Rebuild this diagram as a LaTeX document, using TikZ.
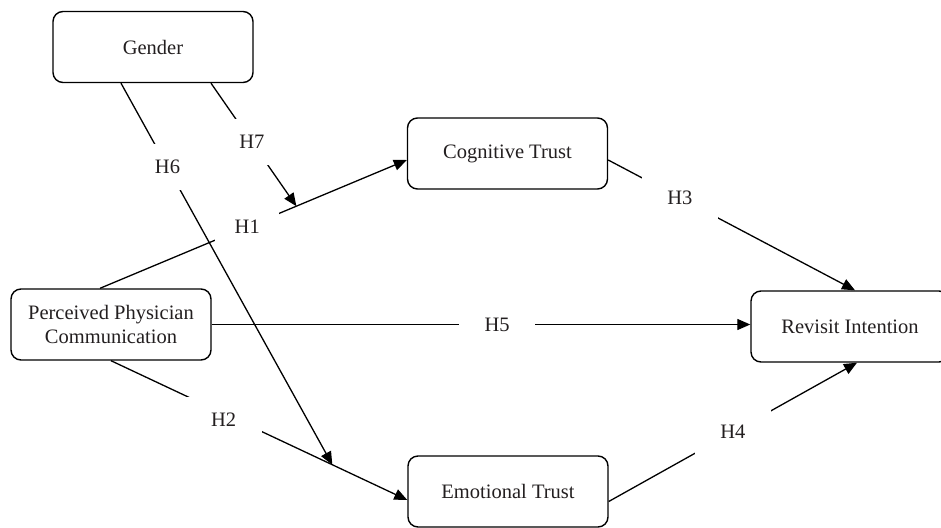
\documentclass[tikz,border=0pt]{standalone}
\usepackage{fontspec}
\setmainfont{Liberation Serif}
\usetikzlibrary{arrows.meta}
\definecolor{textc}{HTML}{231F20}
\begin{document}
\begin{tikzpicture}[x=1pt,y=-1pt,
  box/.style={draw, rounded corners=10pt, line width=1.4pt, minimum width=200pt, minimum height=71pt,
    align=center, inner sep=0pt, font=\fontsize{20.5}{24}\selectfont, text=textc},
  conn/.style={line width=1.3pt, -{Triangle[length=13pt,width=11pt]}},
  lbl/.style={fill=white, inner sep=0pt, minimum width=76pt, minimum height=46pt,
    font=\fontsize{20.5}{24}\selectfont, text=textc}]
\useasboundingbox (0,0) rectangle (941,527);
\fill[white] (0,0) rectangle (941,527);
\clip (0,0) rectangle (941,527);

\node[box] (gen) at (153,47) {Gender};
\node[box] (ppc) at (111,324.5) {Perceived Physician\\Communication};
\node[box] (cog) at (507.5,153.5) {Cognitive Trust};
\node[box, minimum width=198pt] (rev) at (850,326.5) {Revisit Intention};
\node[box] (emo) at (508,491.5) {Emotional Trust};

% H1
\draw[conn] ([xshift=-11pt]ppc.north) -- coordinate[pos=0.64] (m1)
  node[lbl, pos=0.48, minimum width=64pt] {H1} ([yshift=-6.5pt]cog.west);
% H2
\draw[conn] (ppc.south) -- coordinate[pos=0.747] (m2)
  node[lbl, pos=0.38, yshift=-6pt] {H2} ([yshift=-8.5pt]emo.west);
% H6
\draw[conn] ([xshift=-32pt]gen.south) -- node[lbl, pos=0.22] {H6} (m2);
% H7
\draw[conn] ([xshift=58pt]gen.south) -- node[lbl, pos=0.48] {H7} (m1);
% H3
\draw[conn] ([yshift=-6.5pt]cog.east) -- node[lbl, pos=0.29] {H3} ([xshift=5pt]rev.north);
% H4
\draw[conn] ([yshift=-10pt]emo.east) -- node[lbl, pos=0.5] {H4} ([xshift=7pt]rev.south);
% H5
\draw[conn] (ppc.east) -- node[lbl, pos=0.53] {H5} (ppc.east -| rev.west);
\end{tikzpicture}
\end{document}
